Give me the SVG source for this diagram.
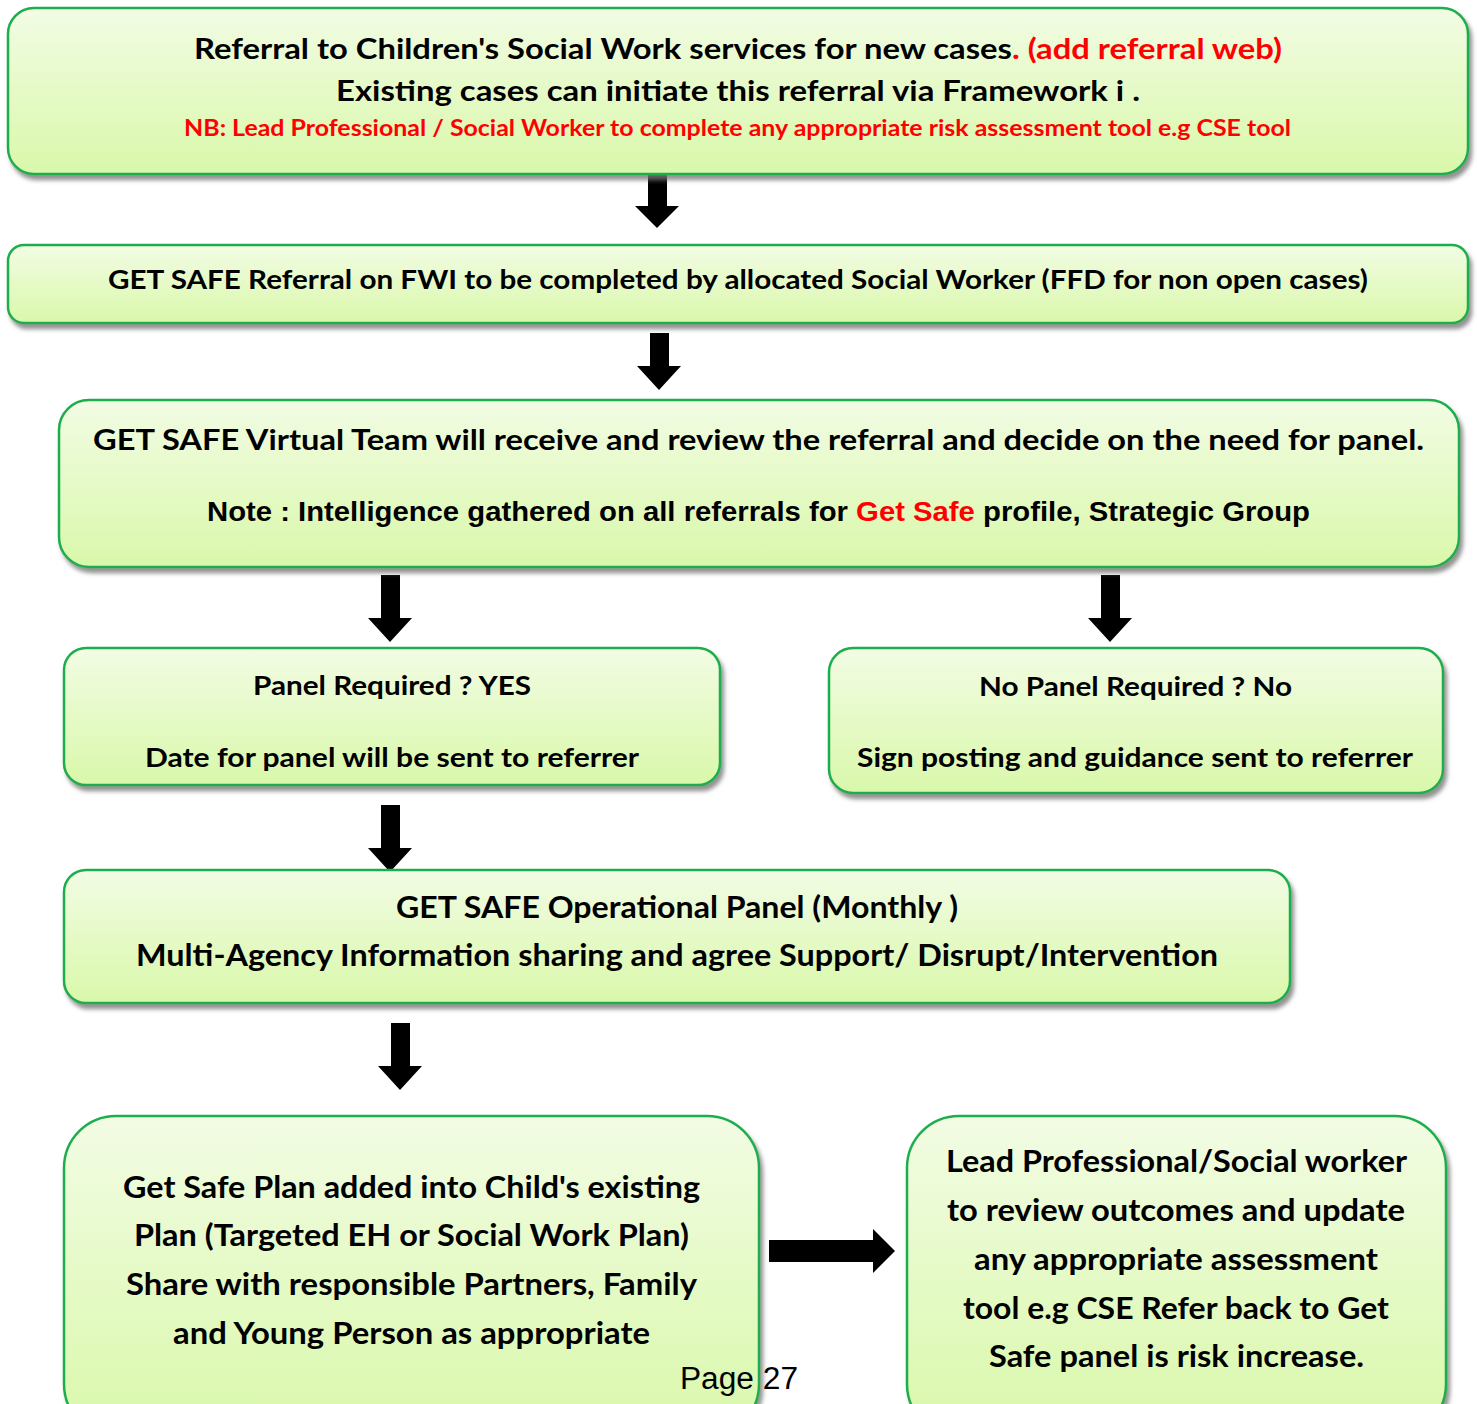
<svg xmlns="http://www.w3.org/2000/svg" width="1477" height="1404" viewBox="0 0 1477 1404">
<defs>
<linearGradient id="g" x1="0" y1="0" x2="0" y2="1">
<stop offset="0" stop-color="#f2fce4"/>
<stop offset="1" stop-color="#d9f8aa"/>
</linearGradient>
<filter id="sh" x="-5%" y="-10%" width="110%" height="130%">
<feDropShadow dx="3" dy="5" stdDeviation="2" flood-color="#777" flood-opacity="0.8"/>
</filter>
</defs>
<style>
.box{fill:url(#g);stroke:#1fae4e;stroke-width:2.5;filter:url(#sh)}
.t{font-family:Lato,"Open Sans",sans-serif;font-weight:bold;fill:#000}
.a{font-family:"Liberation Sans",Arial,sans-serif;font-weight:bold;fill:#000}
.r{fill:#ff0000}
.arr{fill:#000}
</style>
<g id="connectors">
<path class="arr" d="M648,174 H667 V206 H679 L657,228 L635,206 H648 Z"/>
<path class="arr" d="M650,333 H669 V366 H681 L659,390 L637,366 H650 Z"/>
<path class="arr" d="M381,575 H400 V618 H412 L390,642 L368,618 H381 Z"/>
<path class="arr" d="M1101,575 H1120 V618 H1132 L1110,642 L1088,618 H1101 Z"/>
<path class="arr" d="M381,805 H400 V848 H412 L390,872 L368,848 H381 Z"/>
<path class="arr" d="M391,1023 H410 V1066 H422 L400,1090 L378,1066 H391 Z"/>
<path class="arr" d="M769,1240 H873 V1229 L895,1251 L873,1273 V1262 H769 Z"/>
</g>
<g id="n1">
<rect class="box" x="8" y="8" width="1460" height="166" rx="26"/>
<text class="t" x="194" y="59" font-size="29" textLength="1088" lengthAdjust="spacingAndGlyphs">Referral to Children's Social Work services for new cases<tspan class="r">. (add referral web)</tspan></text>
<text class="t" x="336" y="101" font-size="29" textLength="804" lengthAdjust="spacingAndGlyphs">Existing cases can initiate this referral via  Framework i .</text>
<text class="t r" x="184" y="136" font-size="23" textLength="1107" lengthAdjust="spacingAndGlyphs">NB: Lead Professional / Social Worker to complete any appropriate risk assessment tool e.g CSE tool</text>
</g>
<g id="n2">
<rect class="box" x="8" y="245" width="1460" height="78" rx="16"/>
<text class="t" x="108" y="289" font-size="27" textLength="1260" lengthAdjust="spacingAndGlyphs">GET SAFE Referral on FWI to be completed by allocated Social Worker (FFD for non open cases)</text>
</g>
<g id="n3">
<rect class="box" x="59" y="400" width="1400" height="167" rx="30"/>
<text class="t" x="93" y="450" font-size="29" textLength="1331" lengthAdjust="spacingAndGlyphs">GET SAFE Virtual Team will receive and review the referral and decide on the need for panel.</text>
<text class="a" x="207" y="521" font-size="27" textLength="1103" lengthAdjust="spacingAndGlyphs">Note : Intelligence gathered on all referrals for <tspan class="r">Get Safe</tspan> profile, Strategic Group</text>
</g>
<g id="n4">
<rect class="box" x="64" y="648" width="656" height="137" rx="22"/>
<text class="t" x="253" y="695" font-size="27" textLength="278" lengthAdjust="spacingAndGlyphs">Panel Required ? YES</text>
<text class="t" x="145" y="767" font-size="27" textLength="494" lengthAdjust="spacingAndGlyphs">Date for panel will be sent to referrer</text>
</g>
<g id="n5">
<rect class="box" x="829" y="648" width="614" height="145" rx="24"/>
<text class="t" x="979" y="696" font-size="27" textLength="313" lengthAdjust="spacingAndGlyphs">No Panel Required ? No</text>
<text class="t" x="857" y="767" font-size="27" textLength="556" lengthAdjust="spacingAndGlyphs">Sign posting and guidance sent to referrer</text>
</g>
<g id="n6">
<rect class="box" x="64" y="870" width="1226" height="133" rx="22"/>
<text class="t" x="396" y="918" font-size="30" textLength="562" lengthAdjust="spacingAndGlyphs">GET SAFE Operational Panel (Monthly )</text>
<text class="t" x="136" y="966" font-size="30" textLength="1082" lengthAdjust="spacingAndGlyphs">Multi-Agency Information sharing and agree Support/ Disrupt/Intervention</text>
</g>
<g id="n7">
<rect class="box" x="64" y="1116" width="695" height="320" rx="52"/>
<text class="t" x="123" y="1198" font-size="30" textLength="577" lengthAdjust="spacingAndGlyphs">Get Safe Plan added into Child's existing</text>
<text class="t" x="134" y="1246" font-size="30" textLength="555" lengthAdjust="spacingAndGlyphs">Plan (Targeted EH or Social Work Plan)</text>
<text class="t" x="126" y="1295" font-size="30" textLength="571" lengthAdjust="spacingAndGlyphs">Share with responsible Partners, Family</text>
<text class="t" x="173" y="1344" font-size="30" textLength="477" lengthAdjust="spacingAndGlyphs">and Young Person as appropriate</text>
</g>
<g id="n8">
<rect class="box" x="907" y="1116" width="539" height="320" rx="52"/>
<text class="t" x="946" y="1172" font-size="30" textLength="461" lengthAdjust="spacingAndGlyphs">Lead Professional/Social worker</text>
<text class="t" x="947" y="1221" font-size="30" textLength="458" lengthAdjust="spacingAndGlyphs">to review outcomes and update</text>
<text class="t" x="974" y="1270" font-size="30" textLength="404" lengthAdjust="spacingAndGlyphs">any appropriate assessment</text>
<text class="t" x="963" y="1319" font-size="30" textLength="426" lengthAdjust="spacingAndGlyphs">tool e.g CSE Refer back to Get</text>
<text class="t" x="989" y="1367" font-size="30" textLength="375" lengthAdjust="spacingAndGlyphs">Safe panel is risk increase.</text>
</g>
<text x="680" y="1389" font-family="Liberation Sans,Arial,sans-serif" font-size="31" fill="#000" textLength="118" lengthAdjust="spacingAndGlyphs">Page 27</text>
</svg>
